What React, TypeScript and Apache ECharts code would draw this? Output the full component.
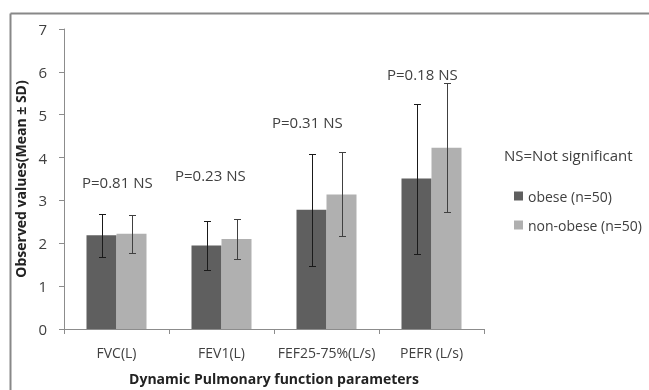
import React, { useEffect, useRef } from "react";
import * as echarts from "echarts";

const categories = ["FVC(L)", "FEV1(L)", "FEF25-75%(L/s)", "PEFR (L/s)"];
const obeseMean = [2.19, 1.95, 2.78, 3.51];
const obeseSD = [0.5, 0.58, 1.31, 1.75];
const nonObeseMean = [2.22, 2.1, 3.14, 4.23];
const nonObeseSD = [0.45, 0.46, 0.98, 1.5];
const pLabels = ["P=0.81 NS", "P=0.23 NS", "P=0.31 NS", "P=0.18 NS"];
const yTicks = [0, 1, 2, 3, 4, 5, 6, 7];

const FONT = "'Open Sans', 'Noto Sans', sans-serif";
const TEXT = "#404040";

export default function App() {
  const ref = useRef<HTMLDivElement>(null);
  useEffect(() => {
    if (!ref.current) return;
    const chart = echarts.init(ref.current, undefined, { renderer: "svg" });
    const barW = 30;
    const errSeries = (means: number[], sds: number[], offset: number, color: string, name: string) => ({
      type: "custom",
      name,
      z: 10,
      silent: true,
      data: means.map((m, i) => [i, m - sds[i], m + sds[i]]),
      renderItem: (params: any, api: any) => {
        const lo = api.coord([api.value(0), api.value(1)]);
        const hi = api.coord([api.value(0), api.value(2)]);
        const x = Math.round(lo[0] + offset) + 0.5;
        const cap = 3.5;
        const style = { stroke: color, lineWidth: 1 };
        const yh = Math.round(hi[1]) + 0.5;
        const yl = Math.round(lo[1]) + 0.5;
        return {
          type: "group",
          children: [
            { type: "line", shape: { x1: x, y1: yh, x2: x, y2: yl }, style },
            { type: "line", shape: { x1: x - cap, y1: yh, x2: x + cap, y2: yh }, style },
            { type: "line", shape: { x1: x - cap, y1: yl, x2: x + cap, y2: yl }, style },
          ],
        };
      },
    });
    const pPos = [
      [82, 174],
      [175, 167],
      [272, 114],
      [387, 66],
    ];
    chart.setOption({
      animation: false,
      grid: { left: 64, right: 165, top: 29, bottom: 57, containLabel: false },
      legend: {
        left: 509,
        top: 184,
        orient: "vertical",
        itemWidth: 9,
        itemHeight: 9,
        itemGap: 15,
        icon: "rect",
        data: ["obese (n=50)", "non-obese (n=50)"],
        textStyle: { fontFamily: FONT, fontSize: 14, color: TEXT },
      },
      xAxis: {
        type: "category",
        data: categories,
        axisLine: { lineStyle: { color: "#8c8c8c" } },
        axisTick: { show: true, length: 5, lineStyle: { color: "#8c8c8c" } },
        axisLabel: { fontFamily: FONT, fontSize: 14, color: TEXT, margin: 16, interval: 0 },
        name: "Dynamic Pulmonary function parameters",
        nameLocation: "middle",
        nameGap: 42,
        nameTextStyle: { fontFamily: FONT, fontSize: 14, fontWeight: "bold", color: "#222" },
      },
      yAxis: {
        type: "value",
        min: yTicks[0],
        max: yTicks[yTicks.length - 1],
        interval: 1,
        splitLine: { show: false },
        axisLine: { show: true, lineStyle: { color: "#8c8c8c" } },
        axisTick: { show: true, length: 5, lineStyle: { color: "#8c8c8c" } },
        axisLabel: { fontFamily: FONT, fontSize: 15, color: TEXT, margin: 17 },
        name: "Observed values(Mean ± SD)",
        nameLocation: "middle",
        nameGap: 36,
        nameTextStyle: { fontFamily: FONT, fontSize: 14, fontWeight: "bold", color: "#222" },
      },
      series: [
        {
          type: "bar",
          name: "obese (n=50)",
          data: obeseMean,
          barWidth: barW,
          barGap: "0%",
          itemStyle: { color: "#5f5f5f" },
        },
        {
          type: "bar",
          name: "non-obese (n=50)",
          data: nonObeseMean,
          barWidth: barW,
          barGap: "0%",
          itemStyle: { color: "#b0b0b0" },
        },
        errSeries(obeseMean, obeseSD, -barW / 2, "#1a1a1a", "err1"),
        errSeries(nonObeseMean, nonObeseSD, barW / 2, "#404040", "err2"),
      ],
      graphic: [
        { type: "line", shape: { x1: 10.5, y1: 13.5, x2: 649, y2: 13.5 }, style: { stroke: "#888", lineWidth: 2 } },
        { type: "line", shape: { x1: 10.5, y1: 13.5, x2: 10.5, y2: 390 }, style: { stroke: "#888", lineWidth: 2 } },
        ...pLabels.map((t, i) => ({
          type: "text",
          x: pPos[i][0],
          y: pPos[i][1],
          style: { text: t, fontFamily: FONT, fontSize: 15, fill: TEXT },
        })),
        {
          type: "text",
          x: 504,
          y: 147,
          style: { text: "NS=Not significant", fontFamily: FONT, fontSize: 15, fill: TEXT },
        },
      ],
    });
    return () => chart.dispose();
  }, []);
  return (
    <div
      ref={ref}
      style={{ width: 649, height: 390, position: "fixed", left: 0, top: 0 }}
    />
  );
}
